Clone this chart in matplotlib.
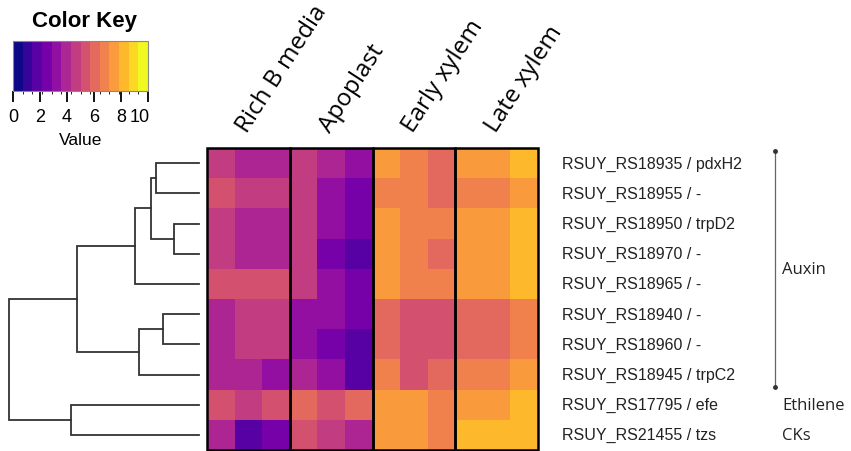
import matplotlib

matplotlib.use("Agg")
import matplotlib.pyplot as plt
import numpy as np
from matplotlib.colors import ListedColormap, BoundaryNorm
from matplotlib.cm import ScalarMappable
from matplotlib.patches import Rectangle

# --- data -------------------------------------------------------------------
genes = [
    "RSUY_RS18935 / pdxH2",
    "RSUY_RS18955 / -",
    "RSUY_RS18950 / trpD2",
    "RSUY_RS18970 / -",
    "RSUY_RS18965 / -",
    "RSUY_RS18940 / -",
    "RSUY_RS18960 / -",
    "RSUY_RS18945 / trpC2",
    "RSUY_RS17795 / efe",
    "RSUY_RS21455 / tzs",
]
conditions = ["Rich B media", "Apoplast", "Early xylem", "Late xylem"]

# 3 replicates per condition, one row per gene
rich_b = [
    [4.6, 3.9, 3.9], [5.4, 4.6, 4.6], [4.6, 3.9, 3.9], [4.6, 3.9, 3.9],
    [5.4, 5.4, 5.4], [3.9, 4.6, 4.6], [3.9, 4.6, 4.6], [3.9, 3.9, 3.2],
    [5.4, 4.6, 5.4], [3.9, 1.8, 2.5],
]
apoplast = [
    [4.6, 3.9, 3.2], [4.6, 3.2, 2.5], [4.6, 3.2, 2.5], [4.6, 2.5, 1.8],
    [4.6, 3.2, 2.5], [3.2, 3.2, 2.5], [3.2, 2.5, 1.8], [3.9, 3.2, 1.8],
    [6.1, 5.4, 6.1], [5.4, 4.6, 3.9],
]
early_xylem = [
    [7.5, 6.8, 6.1], [6.8, 6.8, 6.1], [7.5, 6.8, 6.8], [7.5, 6.8, 6.1],
    [7.5, 6.8, 6.8], [6.1, 5.4, 5.4], [6.1, 5.4, 5.4], [6.8, 5.4, 6.1],
    [7.5, 7.5, 6.8], [7.5, 7.5, 6.8],
]
late_xylem = [
    [7.5, 7.5, 8.2], [6.8, 6.8, 7.5], [7.5, 7.5, 8.2], [7.5, 7.5, 8.2],
    [7.5, 7.5, 8.2], [6.1, 6.1, 6.8], [6.1, 6.1, 6.8], [6.8, 6.8, 7.5],
    [7.5, 7.5, 8.2], [8.2, 8.2, 8.2],
]

# row dendrogram (scipy-style ids: leaves 0..9, new clusters 10..)
merges = [
    (0, 1, 2.26), (2, 3, 1.32), (10, 11, 2.53), (12, 4, 3.37),
    (5, 6, 1.89), (14, 7, 3.16), (13, 15, 6.42), (8, 9, 6.74),
    (16, 17, 10.0),
]

groups = [("Auxin", 0, 7), ("Ethilene", 8, 8), ("CKs", 9, 9)]
key_ticks = [0, 2, 4, 6, 8, 10]

# --- layout helpers -----------------------------------------------------------
W, H = 851, 452
fig = plt.figure(figsize=(W / 100, H / 100), dpi=100)


def px_rect(x0, y0, x1, y1):
    return [x0 / W, 1 - y1 / H, (x1 - x0) / W, (y1 - y0) / H]


def px(x, y):
    return x / W, 1 - y / H


cmap = ListedColormap(plt.get_cmap("plasma")(np.linspace(0, 1, 14)))
norm = BoundaryNorm(np.linspace(0, 10, 15), 14)

data = np.hstack([np.array(rich_b), np.array(apoplast),
                  np.array(early_xylem), np.array(late_xylem)])
nrow, ncol = data.shape

# --- heatmap ----------------------------------------------------------------
HX0, HY0, HX1, HY1 = 207, 149, 538, 451
ax = fig.add_axes(px_rect(HX0, HY0, HX1, HY1))
ax.imshow(data, cmap=cmap, norm=norm, aspect="auto", interpolation="nearest")
ax.set_xlim(-0.5, ncol - 0.5)
ax.set_ylim(nrow - 0.5, -0.5)
ax.axis("off")
for g in range(4):
    ax.add_patch(Rectangle((g * 3 - 0.5, -0.5), 3, nrow, fill=False,
                           edgecolor="black", linewidth=1.8, clip_on=False))

# column labels (rotated)
gw = (HX1 - HX0) / 4
for g, name in enumerate(conditions):
    cx = HX0 + gw * (g + 0.5)
    fig.text(*px(cx - 1, 134), name, rotation=57, rotation_mode="anchor",
             ha="left", va="baseline", fontsize=17.5, family="Open Sans")

# row labels
rh = (HY1 - HY0) / nrow
for i, name in enumerate(genes):
    fig.text(*px(562, HY0 + rh * (i + 0.5)), name, ha="left", va="center",
             fontsize=11.5, family="Liberation Sans", color="#222222")

# group brackets
for name, r0, r1 in groups:
    ymid = HY0 + rh * ((r0 + r1) / 2 + 0.5)
    if r1 > r0:
        ya, yb = HY0 + 3, HY0 + rh * (r1 + 1) - 3
        fig.add_artist(plt.Line2D([775 / W, 775 / W], [1 - ya / H, 1 - yb / H],
                                  color="#666666", linewidth=0.9,
                                  marker="o", markersize=2.5, markevery=[0, 1],
                                  markerfacecolor="#333333",
                                  markeredgecolor="#333333"))
    fig.text(*px(782, ymid), name, ha="left", va="center",
             fontsize=12, family="Open Sans", color="#222222")

# --- dendrogram -------------------------------------------------------------
dax = fig.add_axes(px_rect(9, HY0, 199, HY1))
dax.set_xlim(10, 0)
dax.set_ylim(nrow - 0.5, -0.5)
dax.axis("off")
pos = {i: (float(i), 0.0) for i in range(nrow)}
for k, (a, b, h) in enumerate(merges):
    ya, ha = pos[a]
    yb, hb = pos[b]
    dax.plot([ha, h, h, hb], [ya, ya, yb, yb], color="#333333",
             linewidth=1.3, solid_joinstyle="miter", clip_on=False)
    pos[nrow + k] = ((ya + yb) / 2, h)

# --- colour key -------------------------------------------------------------
cax = fig.add_axes(px_rect(13, 42, 148, 92))
cb = fig.colorbar(ScalarMappable(norm=norm, cmap=cmap), cax=cax,
                  orientation="horizontal")
cb.outline.set_edgecolor("#888888")
cb.outline.set_linewidth(0.8)
# last label is pulled inside the key, as R does
tick_labels = [str(t) for t in key_ticks[:-1]] + [""]
cax.set_xticks(key_ticks, labels=tick_labels,
               fontfamily="Liberation Sans", fontsize=13)
cax.tick_params(axis="x", length=8, width=1.3, pad=4)
cax.annotate(str(key_ticks[-1]), xy=(9.35, 0), xycoords=("data", "axes fraction"),
             xytext=(0, -12), textcoords="offset points", ha="center", va="top",
             fontfamily="Liberation Sans", fontsize=13)
cax.set_xlabel("Value", fontsize=12.5, family="Liberation Sans", labelpad=5)
fig.text(*px(84, 22), "Color Key", ha="center", va="center", fontsize=16,
         fontweight="bold", family="Liberation Sans")

fig.savefig("out.png", dpi=100)
